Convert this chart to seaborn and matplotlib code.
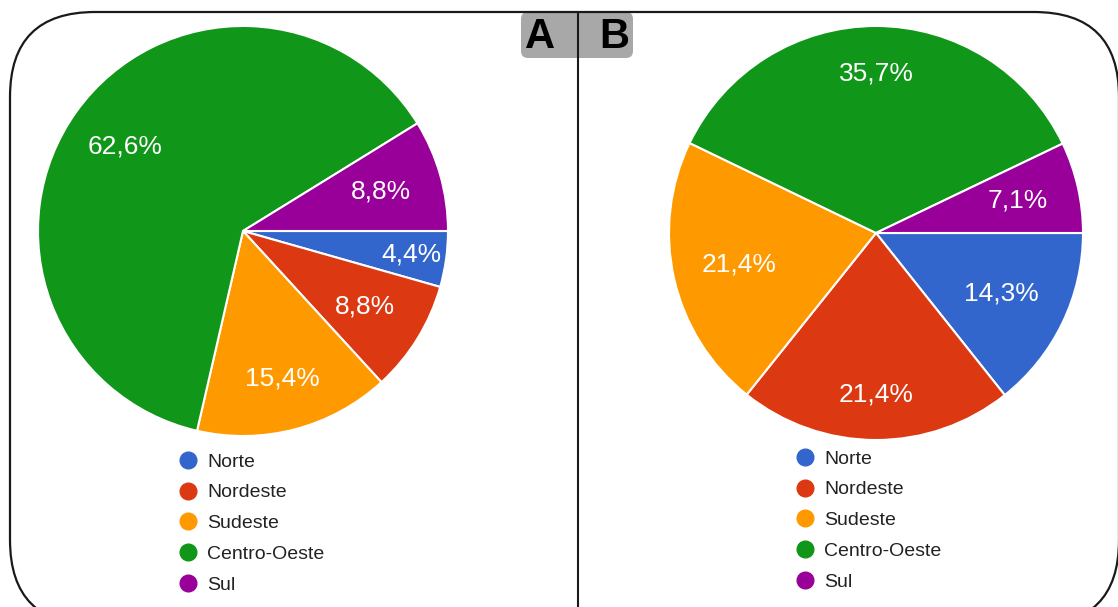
import numpy as np
import matplotlib
matplotlib.use("Agg")
import matplotlib.pyplot as plt
import seaborn as sns
from matplotlib.patches import FancyBboxPatch
from matplotlib.lines import Line2D

# Données
regioes = ["Norte", "Nordeste", "Sudeste", "Centro-Oeste", "Sul"]
valores_a = [4.4, 8.8, 15.4, 62.6, 8.8]
valores_b = [14.3, 21.4, 21.4, 35.7, 7.1]
paineis = ["A", "B"]

cores = sns.color_palette(["#3366cc", "#dc3912", "#ff9900", "#109618", "#990099"])

sns.set_theme(style="white")
plt.rcParams['font.family'] = ['Liberation Sans', 'DejaVu Sans']

W, H = 1118, 607
fig = plt.figure(figsize=(W / 100, H / 100), dpi=100)

# fond : cadre arrondi, séparateur et étiquettes A/B (pixels, y depuis le haut)
bg = fig.add_axes([0, 0, 1, 1])
bg.set_xlim(0, W)
bg.set_ylim(0, H)
bg.axis("off")


def py(y):
    return H - y


bg.add_patch(FancyBboxPatch((521, py(58)), 112, 46, boxstyle="round,pad=0,rounding_size=7",
                            facecolor="#a8a8a8", edgecolor="none", zorder=1))
bg.add_patch(FancyBboxPatch((10, py(625)), 1109, 613, boxstyle="round,pad=0,rounding_size=85",
                            facecolor="none", edgecolor="#1a1a1a", linewidth=1.6, zorder=2))
bg.plot([578, 578], [py(12), 0], color="#1a1a1a", linewidth=1.5, zorder=3)
for lettre, xl in zip(paineis, [540, 614]):
    bg.text(xl, py(37), lettre, fontsize=30, fontweight="bold", color="black",
            ha="center", va="center", zorder=4)


def tracer_pie(cx, cy, r, valeurs, dists, leg_xy):
    ax = fig.add_axes([(cx - r) / W, (H - cy - r) / H, 2 * r / W, 2 * r / H])
    wedges, _ = ax.pie(valeurs, colors=cores, startangle=0, counterclock=False,
                       wedgeprops=dict(edgecolor="white", linewidth=1.5), radius=1)
    ax.set_xlim(-1, 1)
    ax.set_ylim(-1, 1)
    ax.set_aspect("equal")
    for w, v, d in zip(wedges, valeurs, dists):
        ang = np.deg2rad((w.theta1 + w.theta2) / 2)
        ax.text(d * np.cos(ang), d * np.sin(ang), f"{v:.1f}%".replace(".", ","),
                color="white", fontsize=19, ha="center", va="center")
    handles = [Line2D([], [], marker="o", linestyle="none", markersize=12,
                      markerfacecolor=c, markeredgecolor=c) for c in cores]
    fig.legend(handles, regioes, loc="upper left",
               bbox_to_anchor=(leg_xy[0] / W, 1 - leg_xy[1] / H),
               frameon=False, fontsize=14, labelcolor="#222222",
               handlelength=1.0, handletextpad=0.5, labelspacing=0.68,
               borderpad=0, borderaxespad=0)


tracer_pie(243, 231, 205, valores_a, [0.83, 0.70, 0.745, 0.71, 0.70], (178, 453))
tracer_pie(876, 233, 207, valores_b, [0.67, 0.78, 0.68, 0.77, 0.70], (795, 450))

fig.savefig("out.png", dpi=100)
